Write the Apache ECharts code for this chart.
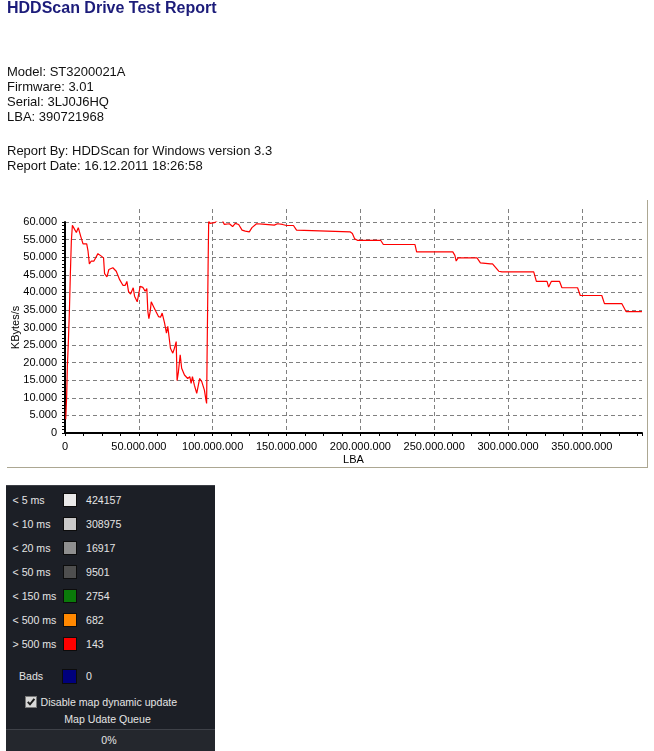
<!DOCTYPE html>
<html>
<head>
<meta charset="utf-8">
<script src="https://cdn.jsdelivr.net/npm/echarts@6/dist/echarts.min.js"></script>
<style>
  html, body { margin:0; padding:0; background:#fff; width:654px; height:751px; overflow:hidden; }
  body { position:relative; font-family:"Liberation Sans", Arial, sans-serif; }
  #chart { position:absolute; left:0; top:0; width:654px; height:751px; }
  .abs { position:absolute; white-space:nowrap; }
  #title { left:7px; top:-1px; font-size:16px; line-height:18px; font-weight:bold; color:#1c1c7a; }
  .info { left:7px; font-size:13px; line-height:15.3px; color:#111; }
  #frame { left:7px; top:200px; width:640px; height:267px; border-right:1px solid #aca792; border-bottom:1px solid #aca792; }
  #panel { left:6px; top:485px; width:209px; height:266px; background:#1c1f26; border-top:1px solid #3b3e45; box-sizing:border-box; }
  .pt { position:absolute; white-space:nowrap; color:#e4e4e4; font-size:10.6px; line-height:13px; }
  .sw { position:absolute; box-sizing:border-box; border:1px solid #0c0c0c; }
  #bar { position:absolute; left:0; top:243px; width:209px; height:23px; background:#24272d; border-top:1px solid #3e4148; box-sizing:border-box; }
</style>
</head>
<body>
<div id="chart"></div>
<div id="frame" class="abs"></div>
<div id="title" class="abs"></div>
<div id="info"></div>
<div id="panel" class="abs"></div>
<script>
// ---- Report header texts ----
const reportTitle = "HDDScan Drive Test Report";
const driveInfo = ["Model: ST3200021A", "Firmware: 3.01", "Serial: 3LJ0J6HQ", "LBA: 390721968"];
const reportInfo = ["Report By: HDDScan for Windows version 3.3", "Report Date: 16.12.2011 18:26:58"];

// ---- Chart data (LBA in millions, speed in KBytes/s) ----
const lbaMillions = [0.5,1.15,1.6,2.3,3.0,3.6,4.3,5.0,6.5,7.7,9.0,10.6,12.2,14.7,15.6,16.5,17.8,19.6,22.3,24.6,26.1,26.8,28.4,29.7,32.4,34.7,37.0,39.2,40.8,41.9,43.0,44.4,46.2,47.1,48.9,49.8,50.9,52.7,54.3,55.4,56.1,56.8,57.7,58.4,59.9,61.5,63.3,64.7,65.8,67.4,68.7,69.6,70.7,71.4,73.0,74.1,75.3,75.9,76.8,78.0,79.0,80.9,83.1,84.5,85.4,86.3,87.6,89.2,89.9,91.2,92.6,94.4,95.5,95.9,96.2,96.9,97.3,98.2,101.1,104.5,106.4,107.9,111.3,113.5,115.3,117.6,119.9,122.1,124.8,126.6,129.7,133.8,141.7,143.9,147.3,150.0,154.7,156.8,157.9,193.0,194.6,196.2,198.0,213.7,215.6,237.0,238.1,262.6,264.0,264.9,266.2,279.0,281.3,288.1,289.5,293.7,295.9,317.4,319.2,326.4,327.5,329.3,334.9,336.5,347.1,348.9,363.5,365.3,377.0,380.0,390.7];
const speedKBs = [3900,10800,18900,26200,35000,44800,54600,59100,57900,57000,58400,56000,53800,53800,51700,48100,48900,48900,51000,50300,49800,45300,44400,46500,47000,46000,43600,42000,42000,43100,40300,39500,41300,38900,37300,39300,41700,41400,40300,41100,34600,32500,34600,37300,36000,34600,33100,32900,34100,31300,28400,30300,29800,24100,22700,24100,26000,14900,17400,22200,18400,16500,15500,16000,14100,16000,13600,11300,11000,15500,14600,12200,9300,8400,21300,47400,60500,59600,59800,60800,60600,59300,59500,58700,59600,59300,57700,57400,57200,58400,59500,59400,59100,59500,59300,59000,59000,57700,57200,57200,56700,55200,54800,54800,53600,53600,51500,51500,50500,48900,49800,49800,48400,48100,48100,46000,45800,45800,43100,43100,41500,43100,43100,41300,41300,39100,39100,36800,36800,34500,34500];
const lbaMax = 390721968;
const xTickStep = 50000000;
const yMax = 60000;
const yTickStep = 5000;
const xAxisName = "LBA";
const yAxisName = "KBytes/s";

// ---- Access time map legend ----
const mapLabels = ["< 5 ms", "< 10 ms", "< 20 ms", "< 50 ms", "< 150 ms", "< 500 ms", "> 500 ms"];
const mapCounts = [424157, 308975, 16917, 9501, 2754, 682, 143];
const mapColors = ["#e9e9e9", "#c9c9c9", "#8f8f8f", "#4e4e4e", "#0a7a0a", "#ff8800", "#ff0000"];
const badsLabel = "Bads";
const badsCount = 0;
const badsColor = "#00007c";
const checkboxText = "Disable map dynamic update";
const queueText = "Map Udate Queue";
const queuePercent = "0%";

// ---- header ----
document.getElementById('title').textContent = reportTitle;
const infoHost = document.getElementById('info');
function addInfo(lines, top) {
  lines.forEach((t, i) => {
    const d = document.createElement('div');
    d.className = 'abs info';
    d.style.top = (top + i * 15.3) + 'px';
    d.textContent = t;
    infoHost.appendChild(d);
  });
}
addInfo(driveInfo, 63.5);
addInfo(reportInfo, 142.5);

// ---- legend panel ----
const panel = document.getElementById('panel');
function txt(s, x, cy, extra) {
  const d = document.createElement('div');
  d.className = 'pt';
  d.style.left = x + 'px';
  d.style.top = (cy - 6.5) + 'px';
  d.textContent = s;
  if (extra) Object.assign(d.style, extra);
  panel.appendChild(d);
  return d;
}
function swatch(color, x, cy, size) {
  const s = document.createElement('div');
  s.className = 'sw';
  s.style.left = x + 'px';
  s.style.top = (cy - size / 2) + 'px';
  s.style.width = size + 'px';
  s.style.height = size + 'px';
  s.style.background = color;
  panel.appendChild(s);
}
mapLabels.forEach((lab, i) => {
  const cy = 14.3 + i * 24.0;
  txt(lab, 6.5, cy);
  swatch(mapColors[i], 56.5, cy, 14);
  txt(String(mapCounts[i]), 80, cy);
});
txt(badsLabel, 13, 190);
swatch(badsColor, 56, 190, 15);
txt(String(badsCount), 80, 190);
// checkbox
const cb = document.createElement('div');
cb.style.cssText = 'position:absolute;left:19px;top:210px;width:12px;height:12px;background:#d8d8d8;box-sizing:border-box;border:1px solid #777;';
cb.innerHTML = '<svg width="10" height="10" viewBox="0 0 10 10" style="position:absolute;left:0;top:0"><path d="M1.8 4.8 L4 7.3 L8.4 1.8" stroke="#1a1a1a" stroke-width="2" fill="none"/></svg>';
panel.appendChild(cb);
txt(checkboxText, 34.5, 216);
txt(queueText, 0, 233, { width: '203px', textAlign: 'center' });
const bar = document.createElement('div');
bar.id = 'bar';
panel.appendChild(bar);
const pct = document.createElement('div');
pct.className = 'pt';
pct.style.cssText += 'left:0;top:3.5px;width:206px;text-align:center;';
pct.textContent = queuePercent;
bar.appendChild(pct);

// ---- chart ----
function fmtDots(v) {
  return String(Math.round(v)).replace(/\B(?=(\d{3})+(?!\d))/g, '.');
}
const seriesData = lbaMillions.map((m, i) => [m * 1e6, speedKBs[i]]);
const chart = echarts.init(document.getElementById('chart'), null, { renderer: 'canvas' });
const axisFont = { color: '#000', fontSize: 11, fontFamily: 'Liberation Sans' };
const gridDash = { color: '#808080', width: 1, type: [4, 3] };
chart.setOption({
  animation: false,
  backgroundColor: 'transparent',
  grid: [
    { left: 65, right: 12, top: 222, bottom: 318, containLabel: false, outerBoundsMode: 'none' },
    { left: 65, right: 12, top: 209, bottom: 318, containLabel: false, outerBoundsMode: 'none' }
  ],
  xAxis: [{
    type: 'value', gridIndex: 0, min: 0, max: lbaMax, interval: xTickStep,
    name: xAxisName, nameLocation: 'middle', nameGap: 21, nameMoveOverlap: false,
    nameTextStyle: axisFont,
    axisLine: { show: true, lineStyle: { color: '#000', width: 2 } },
    axisTick: { show: true, length: 3, lineStyle: { color: '#000' } },
    minorTick: { show: true, splitNumber: 4, length: 3, lineStyle: { color: '#000' } },
    axisLabel: Object.assign({ formatter: fmtDots, margin: 8, showMaxLabel: false }, axisFont),
    splitLine: { show: false }
  }, {
    type: 'value', gridIndex: 1, min: 0, max: lbaMax, interval: xTickStep,
    axisLine: { show: false }, axisTick: { show: false }, axisLabel: { show: false },
    splitLine: { show: true, showMinLine: false, showMaxLine: false, lineStyle: gridDash }
  }],
  yAxis: [{
    type: 'value', gridIndex: 0, min: 0, max: yMax, interval: yTickStep,
    name: yAxisName, nameLocation: 'middle', nameGap: 44, nameRotate: 90, nameMoveOverlap: false,
    nameTextStyle: axisFont,
    axisLine: { show: true, lineStyle: { color: '#000', width: 2 } },
    axisTick: { show: true, length: 3, lineStyle: { color: '#000' } },
    minorTick: { show: true, splitNumber: 5, length: 3, lineStyle: { color: '#000' } },
    axisLabel: Object.assign({ formatter: fmtDots, margin: 8 }, axisFont),
    splitLine: { show: true, showMinLine: false, lineStyle: gridDash },
    z: 3
  }, {
    type: 'value', gridIndex: 1, min: 0, max: yMax, show: false, splitLine: { show: false }
  }],
  series: [{
    type: 'line', xAxisIndex: 0, yAxisIndex: 0, data: seriesData, showSymbol: false, symbol: 'none',
    lineStyle: { color: '#ff0000', width: 1.2 }, z: 5
  }]
});
</script>
</body>
</html>
